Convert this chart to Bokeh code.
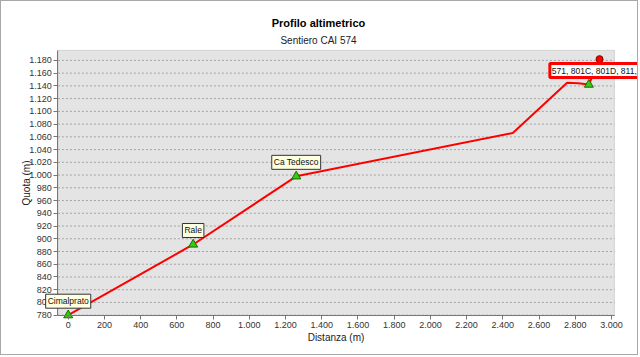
from bokeh.plotting import figure
from bokeh.models import Range1d, Label, CustomJSTickFormatter, FixedTicker, BoxAnnotation, LinearAxis
from bokeh.embed import file_html
from bokeh.resources import INLINE

# Data
dist = [0, 690, 1259, 2455, 2755, 2816, 2875, 2934]
quota = [780, 891, 998, 1066, 1145, 1144, 1142, 1182]

wp_dist = [0, 690, 1259, 2875]
wp_quota = [780, 891, 998, 1142]
wp_names = ["Cimalprato", "Rale", "Ca Tedesco", "571, 801C, 801D, 811, 812"]

end_dist = [2934]
end_quota = [1182]

x_ticks = list(range(0, 3001, 200))
y_ticks = list(range(780, 1181, 20))

# plot-area extent (data units) and canvas mapping
AREA_X = (-57, 3016)
AREA_Y = (779.5, 1195.7)
W, H = 638, 355
PX_X = 0.1811   # pixels per metre
PX_Y = 0.637    # pixels per metre of elevation
x0 = -66.7 / PX_X
y0 = 780 - (H - 313.7) / PX_Y

FONT = "Liberation Sans"

p = figure(width=W, height=H, output_backend="svg", toolbar_location=None,
           x_range=Range1d(x0, x0 + W / PX_X), y_range=Range1d(y0, y0 + H / PX_Y),
           min_border=0, x_axis_type=None, y_axis_type=None)
p.styles = {"border": "1px solid #a8a8a8"}
p.background_fill_color = "white"
p.border_fill_color = "white"
p.outline_line_color = None
p.grid.visible = False

# plot area background + border
p.add_layout(BoxAnnotation(left=AREA_X[0], right=AREA_X[1], bottom=AREA_Y[0], top=AREA_Y[1],
                           fill_color="#e4e4e4", fill_alpha=1, line_color="#8c8c8c", line_width=1,
                           level="underlay"))

# horizontal dashed grid
p.segment(x0=[AREA_X[0]] * len(y_ticks), x1=[AREA_X[1]] * len(y_ticks), y0=y_ticks, y1=y_ticks,
          line_color="#a4a4a4", line_dash="2 2", line_width=1)

fmt = CustomJSTickFormatter(code="return tick.toString().replace(/\\B(?=(\\d{3})+(?!\\d))/g, '.');")
xaxis = LinearAxis(fixed_location=AREA_Y[0], bounds=AREA_X, axis_label="Distanza (m)")
yaxis = LinearAxis(fixed_location=AREA_X[0], bounds=AREA_Y, axis_label="Quota (m)")
xaxis.ticker = FixedTicker(ticks=x_ticks)
yaxis.ticker = FixedTicker(ticks=y_ticks)
for ax in (xaxis, yaxis):
    ax.formatter = fmt
    ax.major_label_text_font = FONT
    ax.major_label_text_font_size = "9px"
    ax.major_label_text_color = "#333333"
    ax.axis_label_text_font = FONT
    ax.axis_label_text_font_size = "10px"
    ax.axis_label_text_font_style = "normal"
    ax.axis_label_text_color = "#222222"
    ax.axis_line_color = "#777777"
    ax.major_tick_line_color = "#777777"
    ax.major_tick_out = 4
    ax.major_tick_in = 0
    ax.minor_tick_line_color = None
    ax.major_label_standoff = 2
xaxis.axis_label_standoff = 1
yaxis.axis_label_standoff = -6
p.add_layout(xaxis, "below")
p.add_layout(yaxis, "left")

p.line(dist, quota, line_color="#ff0000", line_width=2)
p.scatter(wp_dist, wp_quota, marker="triangle", size=9, fill_color="#33cc11", line_color="#226600", line_width=1)
p.scatter(end_dist, end_quota, marker="circle", size=7, fill_color="#ff0000", line_color="#880000", line_width=1)

for i, (xd, yd, name) in enumerate(zip(wp_dist, wp_quota, wp_names)):
    last = i == len(wp_names) - 1
    lab = Label(x=xd, y=yd, text=name, text_font=FONT, text_font_size="8.5px", text_color="#111111",
                text_align="left" if last else "center", text_baseline="bottom",
                x_offset=-39 if last else 0, y_offset=7,
                background_fill_color="white" if last else "#ffffe1",
                border_line_color="#ff0000" if last else "#333333",
                border_line_width=3 if last else 1, padding=2)
    p.add_layout(lab)

# titles
p.add_layout(Label(x=317, y=H - 21, x_units="screen", y_units="screen", text="Profilo altimetrico",
                   text_font=FONT, text_font_size="11px", text_font_style="bold", text_color="#000000",
                   text_align="center", text_baseline="middle"))
p.add_layout(Label(x=317, y=H - 39, x_units="screen", y_units="screen", text="Sentiero CAI 574",
                   text_font=FONT, text_font_size="10px", text_color="#222222",
                   text_align="center", text_baseline="middle"))

open("out.html", "w").write(file_html(p, INLINE))
